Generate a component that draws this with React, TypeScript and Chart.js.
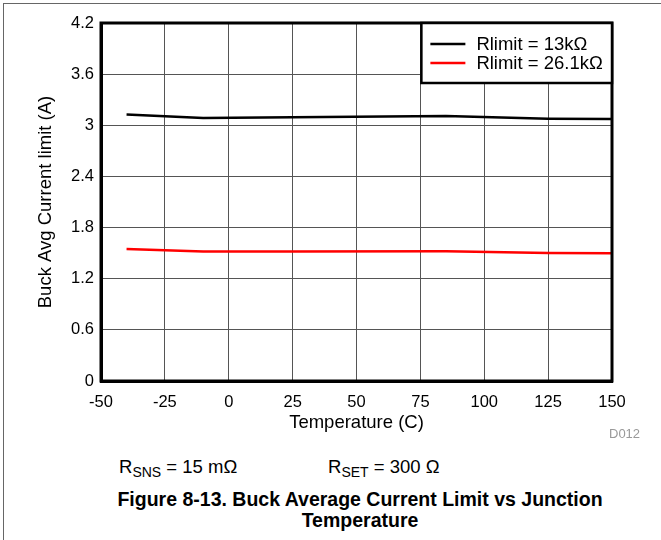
import React, { useEffect, useRef } from "react";
import { Chart, registerables } from "chart.js";

Chart.register(...registerables);

const TEMPS = [-40, -10, 25, 85, 125, 150];
const I_13K = [3.126, 3.086, 3.094, 3.109, 3.077, 3.073];
const I_26K = [1.55, 1.518, 1.518, 1.522, 1.501, 1.498];
const SERIES_LABELS = ["Rlimit = 13k\u03A9", "Rlimit = 26.1k\u03A9"];
const SERIES_COLORS = ["#000000", "#ff0000"];
const X_TICKS = [-50, -25, 0, 25, 50, 75, 100, 125, 150];
const X_TICK_LABELS = ["-50", "-25", "0", "25", "50", "75", "100", "125", "150"];
const Y_TICKS = [0, 0.6, 1.2, 1.8, 2.4, 3, 3.6, 4.2];
const Y_TICK_LABELS = ["0", "0.6", "1.2", "1.8", "2.4", "3", "3.6", "4.2"];
const X_TITLE = "Temperature (C)";
const Y_TITLE = "Buck Avg Current limit (A)";
const LEGEND_FROM_X = 75;

const FONT = "'Liberation Sans', Arial, Helvetica, sans-serif";

const framePlugin = {
  id: "frameAndLegend",
  afterDraw(chart: any) {
    const { ctx, chartArea } = chart;
    ctx.save();
    ctx.strokeStyle = "#000";
    ctx.lineWidth = 3;
    ctx.strokeRect(chartArea.left, chartArea.top, chartArea.right - chartArea.left, chartArea.bottom - chartArea.top);
    // legend box
    const xs = chart.scales.x;
    const left = xs.getPixelForValue(LEGEND_FROM_X) + 1;
    const top = chartArea.top;
    const right = chartArea.right;
    const bottom = top + 60;
    ctx.fillStyle = "#fff";
    ctx.fillRect(left, top, right - left, bottom - top);
    ctx.lineWidth = 2.5;
    ctx.strokeRect(left, top, right - left, bottom - top);
    const dsets = chart.data.datasets;
    dsets.forEach((ds: any, i: number) => {
      const y = top + 21 + i * 19;
      ctx.strokeStyle = ds.borderColor;
      ctx.lineWidth = 2.5;
      ctx.beginPath();
      ctx.moveTo(left + 9, y);
      ctx.lineTo(left + 44, y);
      ctx.stroke();
      ctx.fillStyle = "#000";
      ctx.font = `18.5px ${FONT}`;
      ctx.textBaseline = "middle";
      ctx.textAlign = "left";
      ctx.fillText(ds.label, left + 55, y + 1);
    });
    ctx.restore();
  },
};

export default function App() {
  const ref = useRef<HTMLCanvasElement | null>(null);
  useEffect(() => {
    if (!ref.current) return;
    const chart = new Chart(ref.current, {
      type: "line",
      data: {
        datasets: [I_13K, I_26K].map((vals, i) => ({
          label: SERIES_LABELS[i],
          data: TEMPS.map((t, j) => ({ x: t, y: vals[j] })),
          borderColor: SERIES_COLORS[i],
          backgroundColor: SERIES_COLORS[i],
          borderWidth: 2.5,
          pointRadius: 0,
          tension: 0,
          fill: false,
        })),
      },
      options: {
        animation: false,
        responsive: false,
        devicePixelRatio: 1,
        layout: { padding: { left: 0, top: 23, right: 49, bottom: 0 } },
        plugins: { legend: { display: false }, tooltip: { enabled: false } },
        scales: {
          x: {
            type: "linear",
            min: -50,
            max: 150,
            afterBuildTicks: (s: any) => {
              s.ticks = X_TICKS.map((v) => ({ value: v }));
            },
            afterFit: (s: any) => {
              s.height = 69;
            },
            ticks: {
              color: "#000",
              font: { family: FONT, size: 16.5 },
              padding: 12,
              maxRotation: 0,
              autoSkip: false,
              callback: (_v: any, i: number) => X_TICK_LABELS[i],
            },
            grid: { color: "#555", lineWidth: 1, drawTicks: false },
            border: { display: true, color: "#000", width: 3 },
            title: {
              display: true,
              text: X_TITLE,
              color: "#000",
              font: { family: FONT, size: 18.5 },
              padding: { top: 0, bottom: 16 },
            },
          },
          y: {
            type: "linear",
            min: 0,
            max: 4.2,
            afterBuildTicks: (s: any) => {
              s.ticks = Y_TICKS.map((v) => ({ value: v }));
            },
            afterFit: (s: any) => {
              s.width = 101;
            },
            ticks: {
              color: "#000",
              font: { family: FONT, size: 16.5 },
              padding: 7,
              autoSkip: false,
              callback: (_v: any, i: number) => Y_TICK_LABELS[i],
            },
            grid: { color: "#555", lineWidth: 1, drawTicks: false },
            border: { display: true, color: "#000", width: 3 },
            title: {
              display: true,
              text: Y_TITLE,
              color: "#000",
              font: { family: FONT, size: 18.5 },
              padding: { top: 35, bottom: 0 },
            },
          },
        },
      },
      plugins: [framePlugin],
    } as any);
    return () => chart.destroy();
  }, []);

  const sub: React.CSSProperties = { fontSize: "14px", position: "relative", top: "4px" };
  return (
    <div
      style={{
        position: "fixed",
        left: 0,
        top: 0,
        width: 661,
        height: 540,
        background: "#fff",
        overflow: "hidden",
        fontFamily: FONT,
        color: "#000",
      }}
    >
      <div
        style={{
          position: "absolute",
          left: 3,
          top: 3,
          width: 720,
          height: 620,
          border: "1px solid #666",
        }}
      />
      <canvas ref={ref} width={661} height={450} style={{ position: "absolute", left: 0, top: 0, display: "block" }} />
      <div style={{ position: "absolute", left: 609, top: 426, fontSize: "13px", color: "#999", lineHeight: "16px" }}>
        D012
      </div>
      <div style={{ position: "absolute", left: 119, top: 455, fontSize: "18.5px", lineHeight: "24px", whiteSpace: "nowrap" }}>
        R<span style={sub}>SNS</span> = 15 m{"\u03A9"}
      </div>
      <div style={{ position: "absolute", left: 328, top: 455, fontSize: "18.5px", lineHeight: "24px", whiteSpace: "nowrap" }}>
        R<span style={sub}>SET</span> = 300 {"\u03A9"}
      </div>
      <div
        style={{
          position: "absolute",
          left: 60,
          top: 489,
          width: 600,
          textAlign: "center",
          fontSize: "19.5px",
          fontWeight: "bold",
          lineHeight: "21px",
        }}
      >
        Figure 8-13. Buck Average Current Limit vs Junction
        <br />
        Temperature
      </div>
    </div>
  );
}
